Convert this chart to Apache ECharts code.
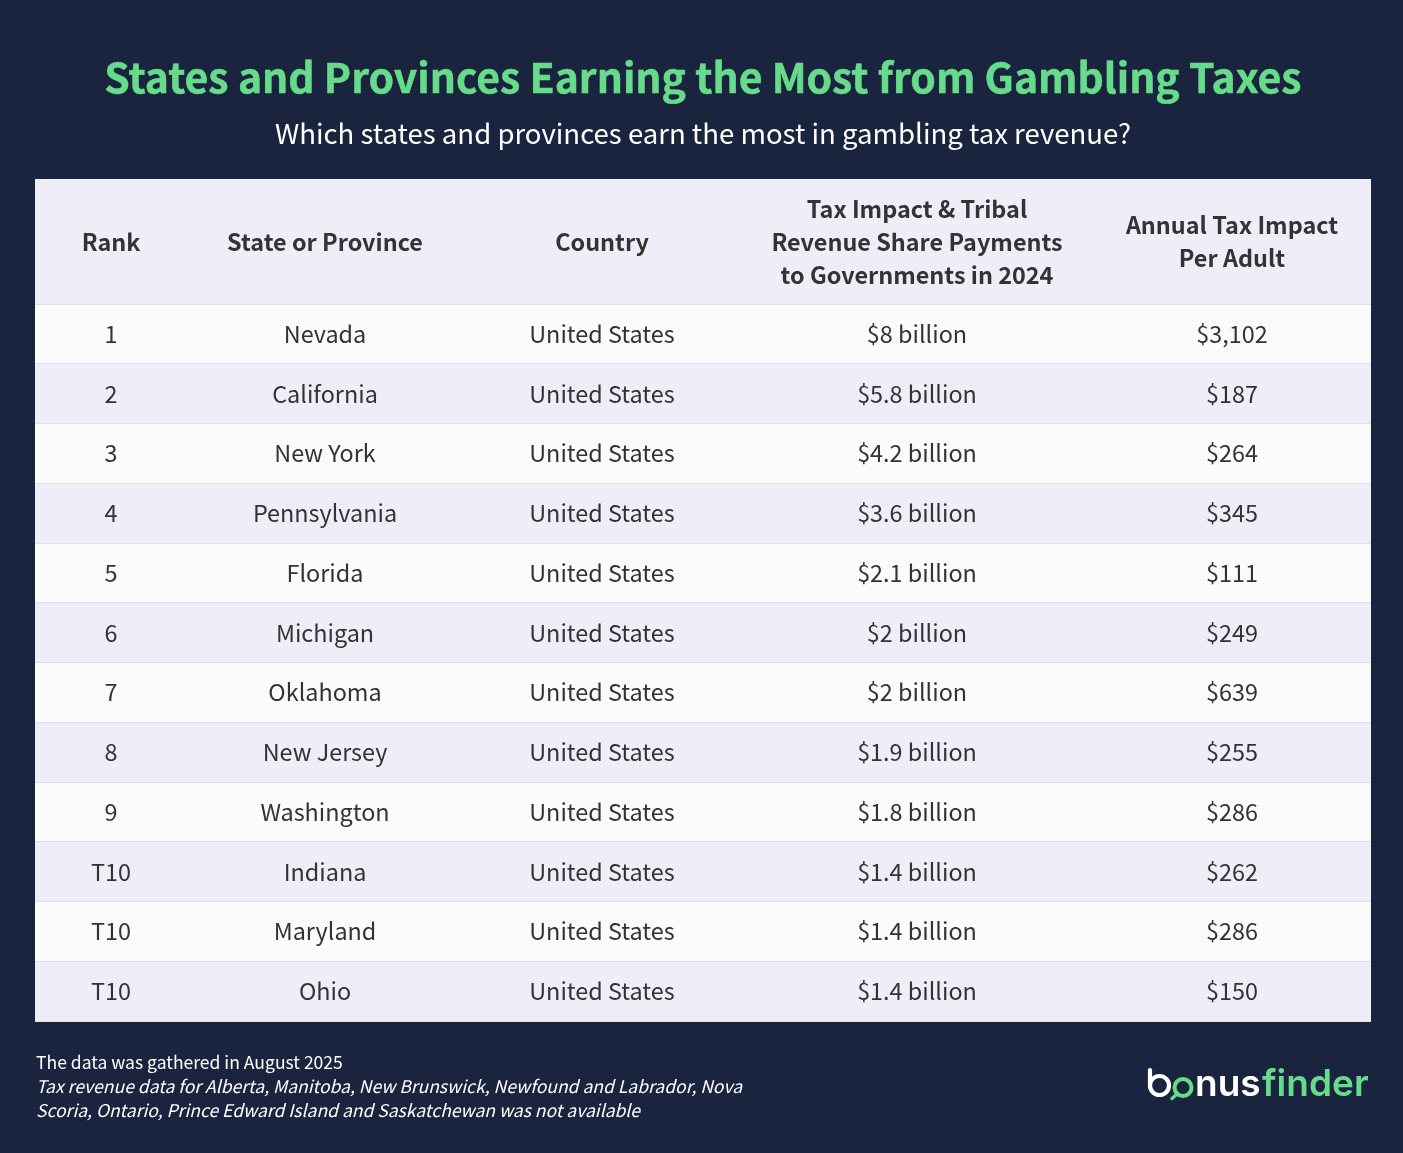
<!DOCTYPE html>
<html>
<head>
<meta charset="utf-8">
<title>States and Provinces Earning the Most from Gambling Taxes</title>
<script src="https://cdn.jsdelivr.net/npm/echarts@6/dist/echarts.min.js"></script>
<style>
  html, body { margin: 0; padding: 0; background: #1a243e; }
  #chart { width: 1403px; height: 1153px; }
</style>
</head>
<body>
<div id="chart"></div>
<script>
var headers = ['Rank', 'State or Province', 'Country',
  'Tax Impact & Tribal\nRevenue Share Payments\nto Governments in 2024',
  'Annual Tax Impact\nPer Adult'];
var ranks = ['1', '2', '3', '4', '5', '6', '7', '8', '9', 'T10', 'T10', 'T10'];
var regions = ['Nevada', 'California', 'New York', 'Pennsylvania', 'Florida', 'Michigan',
  'Oklahoma', 'New Jersey', 'Washington', 'Indiana', 'Maryland', 'Ohio'];
var countries = ['United States', 'United States', 'United States', 'United States',
  'United States', 'United States', 'United States', 'United States', 'United States',
  'United States', 'United States', 'United States'];
var taxImpact = ['$8 billion', '$5.8 billion', '$4.2 billion', '$3.6 billion', '$2.1 billion',
  '$2 billion', '$2 billion', '$1.9 billion', '$1.8 billion', '$1.4 billion', '$1.4 billion',
  '$1.4 billion'];
var perAdult = ['$3,102', '$187', '$264', '$345', '$111', '$249', '$639', '$255', '$286',
  '$262', '$286', '$150'];

var titleText = 'States and Provinces Earning the Most from Gambling Taxes';
var subtitleText = 'Which states and provinces earn the most in gambling tax revenue?';
var noteText = 'The data was gathered in August 2025';
var noteItalic = 'Tax revenue data for Alberta, Manitoba, New Brunswick, Newfound and Labrador, Nova\n' +
  'Scoria, Ontario, Prince Edward Island and Saskatchewan was not available';

// column centres, in page pixels (x axis runs 35..1371)
var columnX = [111, 325, 602, 917, 1232];
var FONT = '"Noto Sans CJK SC", "Noto Sans", sans-serif';
var GREEN = '#66dc8a';
var LINE = '#e1e1e5';

function cellText(x, y, str, bold) {
  return {
    type: 'text',
    style: {
      x: x, y: y, text: str, align: 'center', verticalAlign: 'middle',
      fontFamily: FONT, fontSize: 23.4, fontWeight: bold ? 700 : 400,
      lineHeight: 33, fill: '#333333'
    }
  };
}

function bandShapes(top, bottom, fill) {
  top = Math.round(top);
  bottom = Math.round(bottom);
  return [{
    type: 'rect',
    shape: { x: 35, y: top, width: 1336, height: bottom - top },
    style: { fill: fill }
  }, {
    type: 'rect',
    shape: { x: 35, y: bottom - 1, width: 1336, height: 1 },
    style: { fill: LINE }
  }];
}

function renderRow(params, api) {
  var row = api.value(0);
  var center = api.coord([35, row]);
  var band = api.size([0, 1])[1];
  var values = [ranks[row], regions[row], countries[row], taxImpact[row], perAdult[row]];
  var children = bandShapes(center[1] - band / 2, center[1] + band / 2, row % 2 === 0 ? '#fbfbfb' : '#efeef8');
  values.forEach(function (v, i) {
    children.push(cellText(api.coord([columnX[i], row])[0], center[1] - 0.5, v, false));
  });
  return { type: 'group', children: children };
}

function renderHeader(params, api) {
  var center = api.coord([35, 0]);
  var band = api.size([0, 1])[1];
  var children = bandShapes(center[1] - band / 2, center[1] + band / 2, '#efeef8');
  headers.forEach(function (h, i) {
    children.push(cellText(api.coord([columnX[i], 0])[0], center[1], h, true));
  });
  return { type: 'group', children: children };
}

var xAxisBase = { type: 'value', min: 35, max: 1371, show: false };

var myChart = echarts.init(document.getElementById('chart'), null, { renderer: 'canvas' });

var option = {
  animation: false,
  backgroundColor: '#1a243e',
  grid: [
    { left: 35, width: 1336, top: 179, height: 126 },
    { left: 35, width: 1336, top: 304.5, height: 717 }
  ],
  xAxis: [
    Object.assign({ gridIndex: 0 }, xAxisBase),
    Object.assign({ gridIndex: 1 }, xAxisBase)
  ],
  yAxis: [
    { gridIndex: 0, type: 'category', data: ['header'], show: false },
    { gridIndex: 1, type: 'category', data: ranks.map(function (r, i) { return i; }), inverse: true, show: false }
  ],
  series: [
    {
      type: 'custom', xAxisIndex: 0, yAxisIndex: 0, silent: true,
      renderItem: renderHeader, data: [[0]], encode: { y: 0 }
    },
    {
      type: 'custom', xAxisIndex: 1, yAxisIndex: 1, silent: true,
      renderItem: renderRow,
      data: ranks.map(function (r, i) { return [i]; }),
      encode: { y: 0 }
    }
  ],
  graphic: [
    { type: 'text', left: 104, top: 57, style: { text: titleText, fontFamily: FONT, fontSize: 40.9, fontWeight: 700, fill: GREEN, stroke: GREEN, lineWidth: 0.5 } },
    { type: 'text', left: 275, top: 120, style: { text: subtitleText, fontFamily: FONT, fontSize: 27.55, fontWeight: 400, fill: '#ffffff' } },
    { type: 'text', left: 36, top: 1050, style: { text: noteText, fontFamily: FONT, fontSize: 17.55, lineHeight: 24, fill: '#ffffff' } },
    { type: 'text', left: 36, top: 1074, style: { text: noteItalic, fontFamily: FONT, fontSize: 17.55, fontStyle: 'italic', lineHeight: 24, fill: '#ffffff' } },
    // logo: the "b" bowl and stem, then the "o" as a green magnifying glass
    { type: 'circle', shape: { cx: 1159.5, cy: 1085.5, r: 9.5 }, style: { fill: 'none', stroke: '#ffffff', lineWidth: 4.2 } },
    { type: 'line', shape: { x1: 1150, y1: 1070, x2: 1150, y2: 1086 }, style: { stroke: '#ffffff', lineWidth: 4.2, lineCap: 'round' } },
    { type: 'circle', shape: { cx: 1183, cy: 1087.5, r: 8.5 }, style: { fill: 'none', stroke: GREEN, lineWidth: 4 } },
    { type: 'line', shape: { x1: 1176, y1: 1095, x2: 1172, y2: 1098.5 }, style: { stroke: GREEN, lineWidth: 3.5, lineCap: 'round' } },
    { type: 'text', left: 1195, top: 1066, style: { text: 'nus', fontFamily: 'Inter', fontSize: 37, fontWeight: 600, fill: '#ffffff' } },
    { type: 'text', left: 1262, top: 1066, style: { text: 'finder', fontFamily: 'Inter', fontSize: 37, fontWeight: 600, fill: GREEN } }
  ]
};

myChart.setOption(option);
</script>
</body>
</html>
